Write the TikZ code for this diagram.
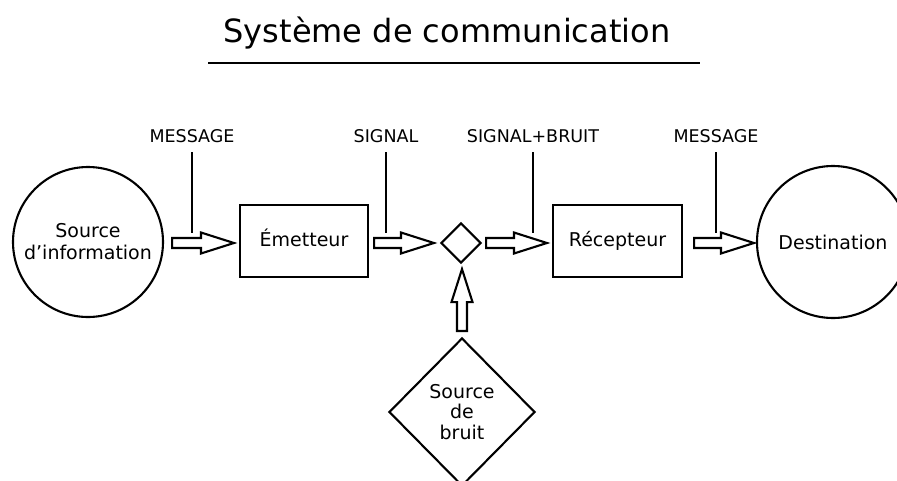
\documentclass[tikz,border=0pt]{standalone}
\usepackage{fontspec}
\setmainfont{DejaVu Sans}
\usetikzlibrary{shapes.geometric,calc}

\newcommand\harrow[2]{%
  \draw[blockarrow] let \p1=#1, \p2=#2 in
    (\x1,\y1+5pt) -- (\x2-33pt,\y1+5pt) -- (\x2-33pt,\y1+10.5pt) -- (\x2,\y1)
    -- (\x2-33pt,\y1-10.5pt) -- (\x2-33pt,\y1-5pt) -- (\x1,\y1-5pt) -- cycle;}
\newcommand\varrow[2]{%
  \draw[blockarrow] let \p1=#1, \p2=#2 in
    (\x1+5pt,\y1) -- (\x1+5pt,\y2-33pt) -- (\x1+10.5pt,\y2-33pt) -- (\x1,\y2)
    -- (\x1-10.5pt,\y2-33pt) -- (\x1-5pt,\y2-33pt) -- (\x1-5pt,\y1) -- cycle;}

\tikzset{
  titletext/.style={font=\fontsize{32}{38}\selectfont, inner sep=0pt},
  rulestyle/.style={line width=2.1pt},
  lbl/.style={font=\fontsize{17.5}{20}\selectfont, inner sep=0pt, anchor=base},
  lblline/.style={line width=2.1pt},
  roundnode/.style={circle, draw, line width=2.1pt, inner sep=0pt, align=center,
    font=\fontsize{19}{22}\selectfont},
  boxnode/.style={rectangle, draw, line width=2.1pt, inner sep=0pt,
    minimum height=72pt, text height=14pt, text depth=4pt,
    font=\fontsize{19}{22}\selectfont},
  diamondnode/.style={diamond, draw, line width=2.1pt, inner sep=0pt, align=center,
    font=\fontsize{19}{20.5}\selectfont},
  blockarrow/.style={line width=2.1pt, line join=miter, fill=white},
}

\begin{document}
\begin{tikzpicture}[x=1pt, y=-1pt]
\useasboundingbox (0,0) rectangle (897,480);
\clip (0,0) rectangle (897,480);

\node[titletext, anchor=base] (title) at (447,42) {Système de communication};
\coordinate (ruleL) at (208,63);
\coordinate (ruleR) at (700,63);
\draw[rulestyle] (ruleL) -- (ruleR);

\node[roundnode, minimum size=150pt] (src) at (88,242) {Source\\d’information};
\node[boxnode, minimum width=128pt] (emit) at (304,241) {Émetteur};
\node[diamond, draw, line width=2.1pt, inner sep=0pt, minimum width=40pt, minimum height=40pt] (mix) at (461,243) {};
\node[boxnode, minimum width=129pt] (recv) at (617.5,241) {Récepteur};
\node[roundnode, minimum size=152pt] (dest) at (833,242) {Destination};
\node[diamondnode, minimum width=146pt, minimum height=148pt] (noise) at (462,412) {Source\\de\\bruit};

\node[lbl] (l1) at (192,142) {MESSAGE};
\node[lbl] (l2) at (386,142) {SIGNAL};
\node[lbl] (l3) at (533,142) {SIGNAL+BRUIT};
\node[lbl] (l4) at (716,142) {MESSAGE};

\foreach \l in {l1,l2,l3,l4}{
  \draw[lblline] (\l.base) ++(0,10) -- ++(0,81);
}

\harrow{($(src.east)+(8,1)$)}{($(emit.west)+(-5,2)$)}
\harrow{($(emit.east)+(5,2)$)}{($(mix.west)+(-6,0)$)}
\harrow{($(mix.east)+(4,0)$)}{($(recv.west)+(-5,2)$)}
\harrow{($(recv.east)+(11,2)$)}{($(dest.west)+(-2,0)$)}
\varrow{($(noise.north)+(0,-6)$)}{($(mix.south)+(0,5)$)}
\end{tikzpicture}
\end{document}
